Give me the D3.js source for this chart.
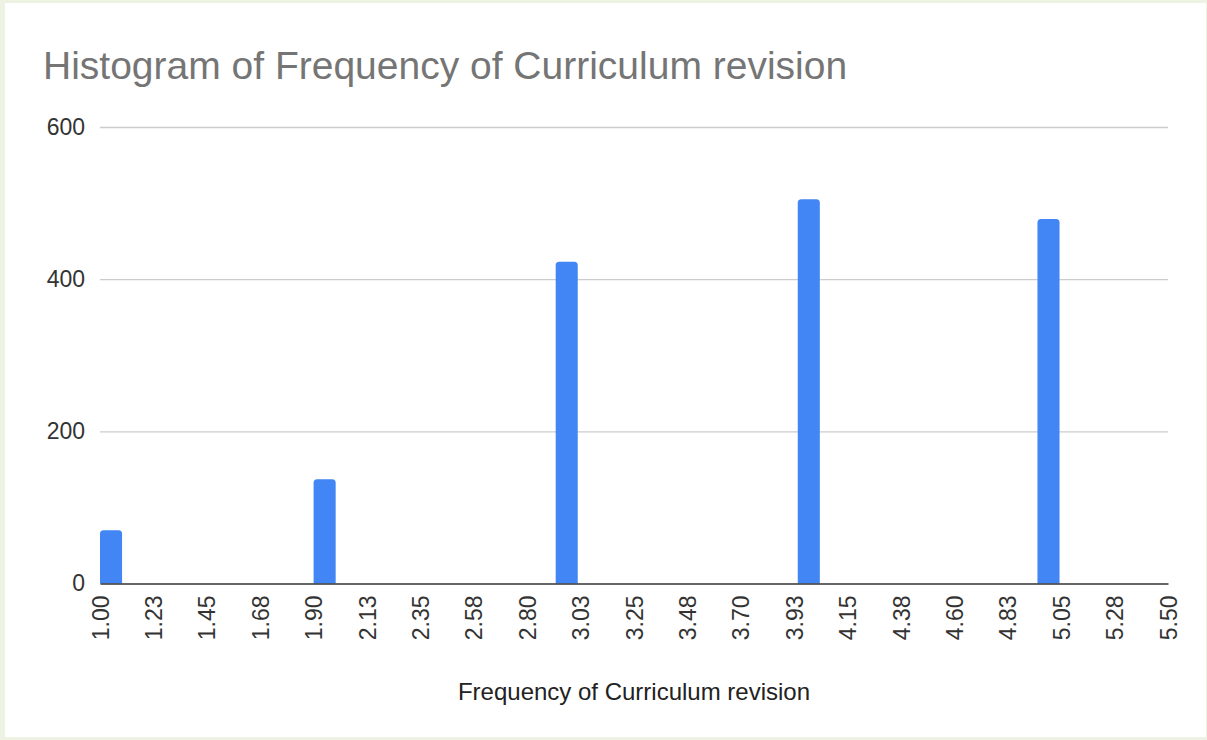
<!DOCTYPE html>
<html>
<head>
<meta charset="utf-8">
<script src="https://cdn.jsdelivr.net/npm/d3@7"></script>
<style>
  html, body { margin: 0; padding: 0; background: #edf2e2; }
  svg { display: block; }
</style>
</head>
<body>
<script>
// ---- Data ----
const titleText = "Histogram of Frequency of Curriculum revision";
const xAxisTitle = "Frequency of Curriculum revision";
const binStarts = [1.00, 1.90, 2.92, 3.94, 4.95];
const binEnds   = [1.093, 1.993, 3.013, 4.033, 5.043];
const counts    = [70, 137, 423, 505, 479];
const xTickValues = [1.00, 1.225, 1.45, 1.675, 1.90, 2.125, 2.35, 2.575, 2.80, 3.025, 3.25, 3.475, 3.70, 3.925, 4.15, 4.375, 4.60, 4.825, 5.05, 5.275, 5.50];
const xTickLabels = ["1.00","1.23","1.45","1.68","1.90","2.13","2.35","2.58","2.80","3.03","3.25","3.48","3.70","3.93","4.15","4.38","4.60","4.83","5.05","5.28","5.50"];
const yTickValues = [0, 200, 400, 600];
const yTickLabels = ["0", "200", "400", "600"];

// ---- Layout ----
const W = 1207, H = 740;
const plot = { left: 100, right: 1168, top: 127, bottom: 583.5 };
const font = "'Liberation Sans', Arial, sans-serif";

const svg = d3.select("body").append("svg").attr("width", W).attr("height", H);

svg.append("rect").attr("x", 0).attr("y", 0).attr("width", W).attr("height", H).attr("fill", "#edf2e2");
svg.append("rect").attr("x", 5).attr("y", 3).attr("width", 1201).attr("height", 734).attr("fill", "#ffffff");

const x = d3.scaleLinear().domain([xTickValues[0], xTickValues[xTickValues.length - 1]]).range([plot.left, plot.right]);
const y = d3.scaleLinear().domain([0, 600]).range([plot.bottom, plot.top]);

// Title
svg.append("text")
  .attr("x", 43).attr("y", 79)
  .attr("font-family", font).attr("font-size", 39)
  .attr("fill", "#757575")
  .text(titleText);

// Gridlines
const yAxis = d3.axisLeft(y).tickValues(yTickValues)
  .tickFormat((d, i) => yTickLabels[i])
  .tickSize(-(plot.right - plot.left)).tickPadding(15);
const gy = svg.append("g").attr("transform", `translate(${plot.left},0)`).call(yAxis);
gy.select(".domain").remove();
gy.selectAll(".tick line").attr("stroke", "#cccccc").attr("stroke-width", 1.3);
gy.selectAll(".tick text")
  .attr("font-family", font).attr("font-size", 23).attr("fill", "#333333");
gy.selectAll(".tick").filter(d => d === 0).select("line").attr("stroke", "none");

// Bars
const bars = binStarts.map((s, i) => ({ s, e: binEnds[i], c: counts[i] }));
const r = 3.5;
svg.append("g").selectAll("path").data(bars).join("path")
  .attr("fill", "#4285f4")
  .attr("d", d => {
    const x0 = x(d.s), x1 = x(d.e), y0 = y(0), y1 = y(d.c);
    return `M${x0},${y0} L${x0},${y1 + r} Q${x0},${y1} ${x0 + r},${y1} L${x1 - r},${y1} Q${x1},${y1} ${x1},${y1 + r} L${x1},${y0} Z`;
  });

// X axis
const xAxis = d3.axisBottom(x).tickValues(xTickValues)
  .tickFormat((d, i) => xTickLabels[i]).tickSize(0);
const gx = svg.append("g").attr("transform", `translate(0,${plot.bottom})`).call(xAxis);
gx.select(".domain").attr("stroke", "#333333").attr("stroke-width", 1.6);
gx.selectAll(".tick text")
  .attr("font-family", font).attr("font-size", 23).attr("fill", "#333333")
  .attr("text-anchor", "end")
  .attr("transform", "rotate(-90)")
  .attr("x", -12).attr("y", 0).attr("dy", "0.35em");

// X axis title
svg.append("text")
  .attr("x", (plot.left + plot.right) / 2).attr("y", 700)
  .attr("text-anchor", "middle")
  .attr("font-family", font).attr("font-size", 24)
  .attr("fill", "#222222")
  .text(xAxisTitle);
</script>
</body>
</html>
